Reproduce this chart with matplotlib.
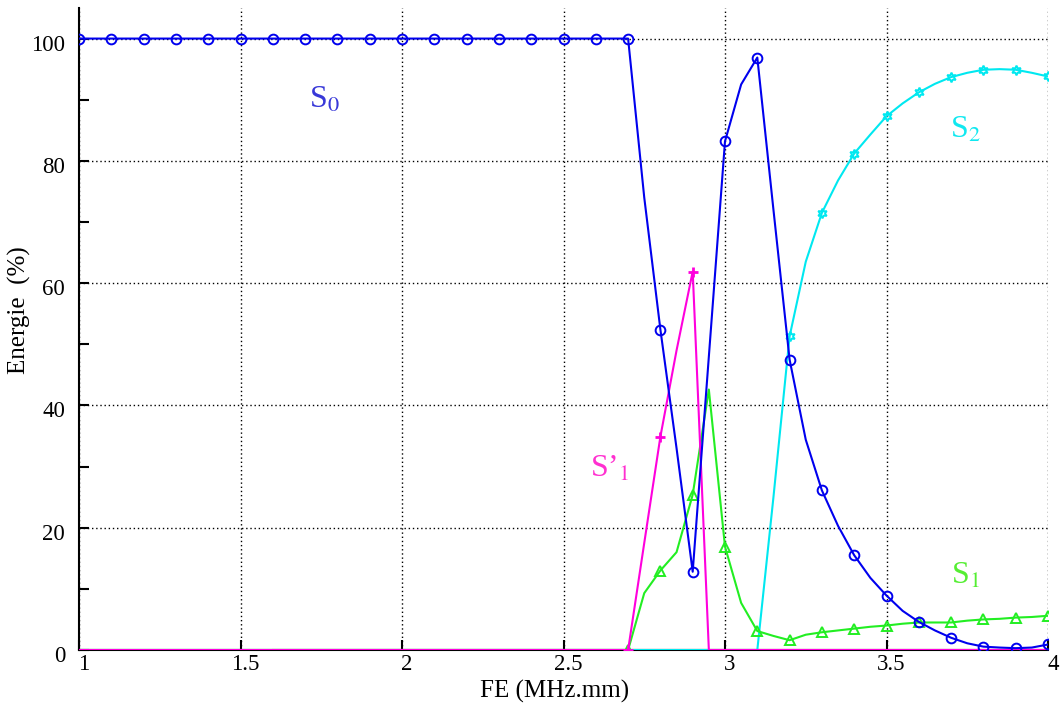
import numpy as np
import matplotlib
matplotlib.use("Agg")
import matplotlib.pyplot as plt
from matplotlib.ticker import MultipleLocator, FixedLocator
import matplotlib.transforms as mtransforms

plt.rcParams['font.family'] = ['Liberation Serif', 'DejaVu Serif']
plt.rcParams['mathtext.fontset'] = 'stix'

# Frequency-thickness product FE (MHz.mm), step 0.05
fe = [1.00, 1.05, 1.10, 1.15, 1.20, 1.25, 1.30, 1.35, 1.40, 1.45,
      1.50, 1.55, 1.60, 1.65, 1.70, 1.75, 1.80, 1.85, 1.90, 1.95,
      2.00, 2.05, 2.10, 2.15, 2.20, 2.25, 2.30, 2.35, 2.40, 2.45,
      2.50, 2.55, 2.60, 2.65, 2.70, 2.75, 2.80, 2.85, 2.90, 2.95,
      3.00, 3.05, 3.10, 3.15, 3.20, 3.25, 3.30, 3.35, 3.40, 3.45,
      3.50, 3.55, 3.60, 3.65, 3.70, 3.75, 3.80, 3.85, 3.90, 3.95,
      4.00]

s0 = [100, 100, 100, 100, 100, 100, 100, 100, 100, 100,
      100, 100, 100, 100, 100, 100, 100, 100, 100, 100,
      100, 100, 100, 100, 100, 100, 100, 100, 100, 100,
      100, 100, 100, 100, 100, 74.0, 52.4, 33.0, 12.8, 48.0,
      83.2, 92.5, 96.9, 72.0, 47.5, 34.4, 26.1, 20.3, 15.5, 11.8,
      8.9, 6.4, 4.6, 3.2, 2.0, 1.1, 0.55, 0.4, 0.3, 0.4,
      0.9]

s1 = [0, 0, 0, 0, 0, 0, 0, 0, 0, 0,
      0, 0, 0, 0, 0, 0, 0, 0, 0, 0,
      0, 0, 0, 0, 0, 0, 0, 0, 0, 0,
      0, 0, 0, 0, 0, 9.3, 13.0, 16.0, 25.4, 42.6,
      16.9, 7.7, 3.1, 2.3, 1.6, 2.5, 2.9, 3.2, 3.5, 3.8,
      4.0, 4.3, 4.5, 4.5, 4.5, 4.8, 5.0, 5.1, 5.3, 5.4,
      5.6]

s1p = [0, 0, 0, 0, 0, 0, 0, 0, 0, 0,
       0, 0, 0, 0, 0, 0, 0, 0, 0, 0,
       0, 0, 0, 0, 0, 0, 0, 0, 0, 0,
       0, 0, 0, 0, 0, 17.5, 34.9, 49.0, 61.9, 0,
       0, 0, 0, 0, 0, 0, 0, 0, 0, 0,
       0, 0, 0, 0, 0, 0, 0, 0, 0, 0,
       0]

s2 = [0, 0, 0, 0, 0, 0, 0, 0, 0, 0,
      0, 0, 0, 0, 0, 0, 0, 0, 0, 0,
      0, 0, 0, 0, 0, 0, 0, 0, 0, 0,
      0, 0, 0, 0, 0, 0, 0, 0, 0, 0,
      0, 0, 0, 25.0, 51.3, 63.5, 71.5, 76.8, 81.2, 84.3,
      87.3, 89.4, 91.2, 92.6, 93.7, 94.4, 94.9, 95.0, 94.9, 94.4,
      93.8]

# other mode stays at zero (red line from 1.6)
fe_other = [1.6, 4.0]
s_other = [0, 0]

xticks = [1, 1.5, 2, 2.5, 3, 3.5, 4]
xticklabels = ['1', '1.5', '2', '2.5', '3', '3.5', '4']
yticks = [0, 20, 40, 60, 80, 100]

fig = plt.figure(figsize=(10.62, 7.13), dpi=100)
ax = fig.add_axes([79/1062, 63/713, (1048-79)/1062, (650-8)/713])

lw = 1.5
ax.plot(fe_other, s_other, color='#d03040', lw=lw, zorder=2)
ax.plot(fe, s2, color='#00e8f0', lw=lw, marker=(6, 1, 0), ms=7, mfc='none',
        mew=1.4, markevery=list(range(44, 61, 2)), zorder=3)
ax.plot(fe, s1, color='#22ee22', lw=lw, marker='^', ms=7.5, mfc='none',
        mew=1.4, markevery=list(range(34, 61, 2)), zorder=3)
ax.plot(fe, s1p, color='#ff00dd', lw=lw, marker='+', ms=7, mew=2.0,
        markevery=[34, 36, 38], zorder=3)
ax.plot(fe, s0, color='#0000ee', lw=lw, marker='o', ms=7, mfc='none',
        mew=1.4, markevery=2, zorder=4)

ax.set_xlim(1, 4)
ax.set_ylim(0, 105)
ax.set_xticks(xticks)
ax.set_xticklabels(xticklabels)
ax.set_yticks(yticks)
ax.yaxis.set_minor_locator(FixedLocator([10, 30, 50, 70, 90]))

for s in ['top', 'right']:
    ax.spines[s].set_visible(False)
for s in ['left', 'bottom']:
    ax.spines[s].set_linewidth(1.5)

ax.grid(True, which='major', color='black', linestyle=(0, (1, 2)), lw=1.0)
ax.tick_params(axis='both', which='both', direction='in', width=1.5,
               labelsize=16.5)
ax.tick_params(axis='both', which='major', length=7)
ax.tick_params(axis='y', which='minor', length=7)
ax.tick_params(axis='x', pad=3)
ax.tick_params(axis='y', pad=10)

offx = mtransforms.ScaledTranslation(5/100, 0, fig.dpi_scale_trans)
for lab in ax.get_xticklabels():
    lab.set_transform(lab.get_transform() + offx)
offy = mtransforms.ScaledTranslation(0, -4/100, fig.dpi_scale_trans)
for lab in ax.get_yticklabels():
    lab.set_transform(lab.get_transform() + offy)

ax.set_xlabel('FE (MHz.mm)', fontsize=18)
ax.set_ylabel('Energie  (%)', fontsize=18)
ax.xaxis.set_label_coords(0.491, -0.046)
ax.yaxis.set_label_coords(-0.05, 0.53)

ax.text(1.76, 90, r'S$_0$', color='#3838d8', fontsize=23, ha='center', va='center')
ax.text(2.645, 29.5, r'S’$_1$', color='#ff30d0', fontsize=23, ha='center', va='center')
ax.text(3.745, 85, r'S$_2$', color='#10e8f0', fontsize=23, ha='center', va='center')
ax.text(3.745, 12, r'S$_1$', color='#55ee33', fontsize=23, ha='center', va='center')

fig.savefig('out.png', dpi=100)
